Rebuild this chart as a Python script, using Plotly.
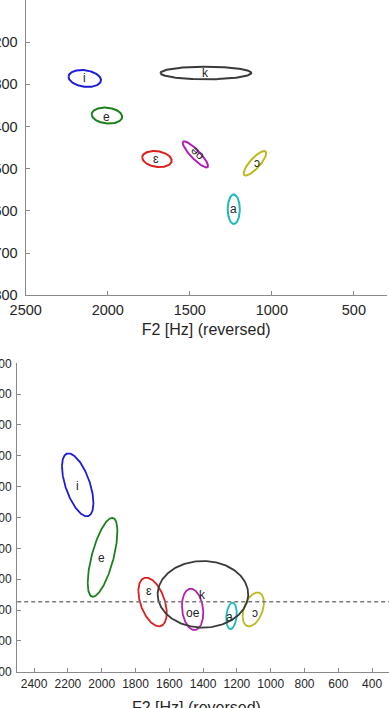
import numpy as np
import plotly.graph_objects as go

W, H = 389, 708

# ---------------- data ----------------
vowels = ["i", "e", "ɛ", "oe", "a", "ɔ", "k"]
colors = ["#1c1cd8", "#1c801c", "#dc1e1e", "#b41eb4", "#1eb9b9", "#b9b91e", "#3a3a3a"]

# top panel: ellipse centres / spreads (F2 Hz, F1 Hz) and correlation
top_f2 = [2140, 2005, 1700, 1466, 1232, 1103, 1402]
top_f1 = [286, 374, 477, 466, 596, 487, 273]
top_sd_f2 = [99, 93, 90, 77, 37, 69, 277]
top_sd_f1 = [20, 19, 19, 31, 35, 29, 15]
top_rho = [-0.2, -0.15, -0.2, -0.88, 0.0, 0.82, 0.0]
top_lab_f2 = [2143, 2006, 1706, 1458, 1235, 1092, 1403]
top_lab_f1 = [286, 377, 477, 465, 595, 486, 272]
top_lab_angle = [0, 0, 0, -135, 0, 0, 0]

# bottom panel
bot_f2 = [2142, 1995, 1699, 1462, 1232, 1103, 1401]
bot_f1 = [494, 729, 874, 898, 919, 898, 849]
bot_sd_f2 = [93, 88, 84, 63, 31, 63, 268]
bot_sd_f1 = [102, 128, 79, 67, 43, 55, 108]
bot_rho = [-0.58, 0.65, -0.45, -0.17, 0.2, 0.4, 0.0]
bot_lab_f2 = [2142, 2004, 1720, 1462, 1241, 1093, 1405]
bot_lab_f1 = [497, 732, 837, 909, 922, 911, 850]
threshold = 873

top_xticks = [2500, 2000, 1500, 1000, 500]
top_yticks = [100, 200, 300, 400, 500, 600, 700, 800]
bot_xticks = [2400, 2200, 2000, 1800, 1600, 1400, 1200, 1000, 800, 600, 400]
bot_yticks = [100, 200, 300, 400, 500, 600, 700, 800, 900, 1000, 1100]
xtitle = "F2 [Hz] (reversed)"

FONT = "Liberation Sans, Arial, sans-serif"
TXT = "#262626"
AX = "#8a8a8a"


def ellipse(cx, cy, sx, sy, rho, n=241):
    t = np.linspace(0, 2 * np.pi, n)
    x = cx + sx * np.cos(t)
    y = cy + sy * (rho * np.cos(t) + np.sqrt(1 - rho ** 2) * np.sin(t))
    return x, y


fig = go.Figure()
annotations = []

for i, v in enumerate(vowels):
    x, y = ellipse(top_f2[i], top_f1[i], top_sd_f2[i], top_sd_f1[i], top_rho[i])
    fig.add_trace(go.Scatter(x=x, y=y, mode="lines", xaxis="x", yaxis="y",
                             line=dict(color=colors[i], width=2), hoverinfo="skip",
                             showlegend=False))
    annotations.append(dict(x=top_lab_f2[i], y=top_lab_f1[i], xref="x", yref="y",
                            text=v, showarrow=False, textangle=top_lab_angle[i],
                            font=dict(family=FONT, size=12, color=TXT)))

for i, v in enumerate(vowels):
    x, y = ellipse(bot_f2[i], bot_f1[i], bot_sd_f2[i], bot_sd_f1[i], bot_rho[i])
    fig.add_trace(go.Scatter(x=x, y=y, mode="lines", xaxis="x2", yaxis="y2",
                             line=dict(color=colors[i], width=1.8), hoverinfo="skip",
                             showlegend=False))
    annotations.append(dict(x=bot_lab_f2[i], y=bot_lab_f1[i], xref="x2", yref="y2",
                            text=v, showarrow=False,
                            font=dict(family=FONT, size=12, color=TXT)))

# bottom axis title (sits lower than plotly's fixed title slot, partly off the page)
annotations.append(dict(x=196 / W, y=0, xref="paper", yref="paper", yanchor="middle",
                        yshift=1, text=xtitle, showarrow=False,
                        font=dict(family=FONT, size=16, color=TXT)))

axis_common = dict(showgrid=False, zeroline=False, showline=True, linecolor=AX,
                   linewidth=1.3, ticks="inside", ticklen=4, tickcolor=AX,
                   tickwidth=1, mirror=False, automargin=False)

fig.update_layout(
    width=W, height=H,
    margin=dict(l=0, r=0, t=0, b=0),
    paper_bgcolor="white", plot_bgcolor="white",
    template="none",
    font=dict(family=FONT, color=TXT),
    xaxis=dict(domain=[25.7 / W, 386.7 / W], anchor="y", range=[2500, 300],
               tickvals=top_xticks, tickfont=dict(size=14.5), ticklabelstandoff=1,
               title=dict(text=xtitle, font=dict(size=16), standoff=6),
               **axis_common),
    yaxis=dict(domain=[1 - 295.3 / H, 1], anchor="x", range=[800, 100],
               tickvals=top_yticks, tickfont=dict(size=14.5), ticklabelstandoff=4,
               **axis_common),
    xaxis2=dict(domain=[17.2 / W, 1], anchor="y2", range=[2500, 300],
                tickvals=bot_xticks, tickfont=dict(size=12), ticklabelstandoff=1,
                **axis_common),
    yaxis2=dict(domain=[1 - 671.7 / H, 1 - 363.3 / H], anchor="x2", range=[1100, 100],
                tickvals=bot_yticks, tickfont=dict(size=12), ticklabelstandoff=2,
                **axis_common),
    annotations=annotations,
    shapes=[dict(type="line", xref="x2 domain", yref="y2", x0=0, x1=1,
                 y0=threshold, y1=threshold,
                 line=dict(color="#7a7a7a", width=1.5, dash="4px,3px"))],
)

fig.write_html("out.html", config={"displayModeBar": False},
               post_script="document.body.style.margin='0';")
